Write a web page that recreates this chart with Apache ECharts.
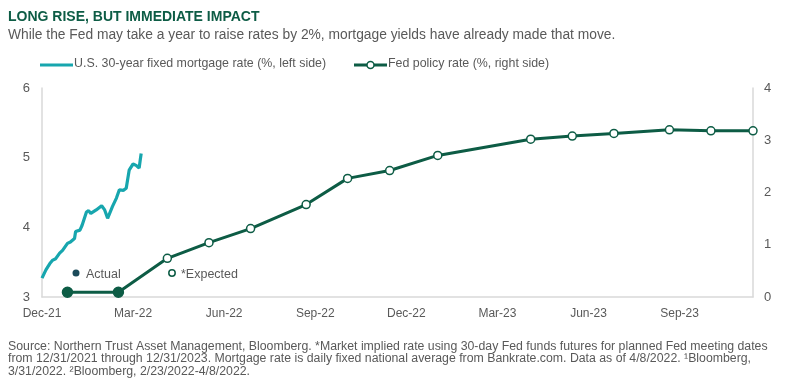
<!DOCTYPE html>
<html><head><meta charset="utf-8">
<script src="https://cdn.jsdelivr.net/npm/echarts@6/dist/echarts.min.js"></script>
<style>html,body{margin:0;padding:0;background:#fff}#c{width:800px;height:378px}</style>
</head><body><div id="c"></div>
<script>
// ---- data ----
const tickLabels = ['Dec-21','Mar-22','Jun-22','Sep-22','Dec-22','Mar-23','Jun-23','Sep-23'];
const mortgageDates = ['2021-12-31','2022-01-01','2022-01-04','2022-01-08','2022-01-11','2022-01-14','2022-01-18','2022-01-21','2022-01-23','2022-01-26','2022-01-29','2022-02-02','2022-02-03','2022-02-07','2022-02-09','2022-02-13','2022-02-15','2022-02-17','2022-02-22','2022-02-27','2022-03-02','2022-03-05','2022-03-07','2022-03-10','2022-03-14','2022-03-17','2022-03-21','2022-03-24','2022-03-27','2022-03-31','2022-04-03','2022-04-06','2022-04-07','2022-04-08'];
const mortgageRates = [3.27,3.29,3.39,3.48,3.53,3.55,3.63,3.67,3.65,3.77,3.79,3.84,3.94,3.96,4.03,4.22,4.24,4.20,4.25,4.31,4.25,4.13,4.13,4.30,4.42,4.54,4.53,4.56,4.82,4.91,4.89,4.85,4.96,5.06];
const fedDates = ['2022-01-26','2022-03-16','2022-05-04','2022-06-15','2022-07-27','2022-09-21','2022-11-02','2022-12-14','2023-02-01','2023-05-03','2023-06-14','2023-07-26','2023-09-20','2023-11-01','2023-12-13'];
const fedRates = [0.09,0.09,0.74,1.04,1.31,1.77,2.27,2.42,2.71,3.02,3.08,3.13,3.20,3.18,3.18];
const fedActualCount = 2;
const axisEndDate = '2023-12-13';
const seriesNames = ['U.S. 30-year fixed mortgage rate (%, left side)','Fed policy rate (%, right side)'];

// ---- helpers ----
function monthIdx(s){ // months elapsed since 2021-12-31
  const [y,m,d] = s.split('-').map(Number);
  const dim = new Date(y, m, 0).getDate();
  return (y-2022)*12 + (m-1) + d/dim;
}
const GREEN = '#0d5c45', TEAL = '#17a6ae', GRAY = '#595959', AX = '#d9d9d9';
const FONT = '"Liberation Sans", Arial, sans-serif';

const mortgageData = mortgageDates.map((d,i)=>[monthIdx(d), mortgageRates[i]]);
const fedData = fedDates.map((d,i)=>{
  const o = {value:[monthIdx(d), fedRates[i]]};
  if(i < fedActualCount){ o.symbolSize = 10; o.itemStyle = {color: GREEN, borderColor: GREEN}; }
  return o;
});

const chart = echarts.init(document.getElementById('c'), null, {renderer:'canvas'});
chart.setOption({
  animation:false,
  backgroundColor:'#fff',
  textStyle:{fontFamily:FONT},
  grid:{left:42,right:47,top:88,bottom:81,containLabel:false},
  xAxis:{
    type:'value', min:0, max:monthIdx(axisEndDate), interval:3,
    axisLine:{show:true,lineStyle:{color:AX,width:1.5}},
    axisTick:{show:false}, splitLine:{show:false},
    axisLabel:{color:GRAY,fontSize:12,margin:11,fontFamily:FONT,showMaxLabel:false,
      formatter:v=>{const k=v/3; return Math.abs(k-Math.round(k))<1e-6 ? (tickLabels[Math.round(k)]||'') : '';}}
  },
  yAxis:[
    {type:'value',min:3,max:6,interval:1,position:'left',
     axisLine:{show:true,lineStyle:{color:AX,width:1.5}},axisTick:{show:false},splitLine:{show:false},
     axisLabel:{color:GRAY,fontSize:13,margin:12,fontFamily:FONT}},
    {type:'value',min:0,max:4,interval:1,position:'right',
     axisLine:{show:true,lineStyle:{color:AX,width:1.5}},axisTick:{show:false},splitLine:{show:false},
     axisLabel:{color:GRAY,fontSize:13,margin:11,fontFamily:FONT}}
  ],
  series:[
    {name:seriesNames[0],type:'line',yAxisIndex:0,
     data:mortgageData,symbol:'none',lineStyle:{color:TEAL,width:3.2},itemStyle:{color:TEAL}},
    {name:seriesNames[1],type:'line',yAxisIndex:1,
     data:fedData,symbol:'circle',symbolSize:8,showSymbol:true,
     lineStyle:{color:GREEN,width:3},itemStyle:{color:'#fff',borderColor:GREEN,borderWidth:1.5}}
  ],
  graphic:[
    {type:'text',left:8,top:10,style:{text:'LONG RISE, BUT IMMEDIATE IMPACT',font:'bold 14px '+FONT,fill:GREEN}},
    {type:'text',left:8,top:28,style:{text:'While the Fed may take a year to raise rates by 2%, mortgage yields have already made that move.',font:'13.8px '+FONT,fill:GRAY}},
    // legend
    {type:'line',shape:{x1:40,y1:65,x2:73,y2:65},style:{stroke:TEAL,lineWidth:3}},
    {type:'text',left:74,top:58,style:{text:seriesNames[0],font:'12.4px '+FONT,fill:GRAY}},
    {type:'line',shape:{x1:354,y1:65,x2:387,y2:65},style:{stroke:GREEN,lineWidth:3}},
    {type:'circle',shape:{cx:370.5,cy:65,r:3.5},style:{fill:'#fff',stroke:GREEN,lineWidth:1.5}},
    {type:'text',left:388,top:58,style:{text:seriesNames[1],font:'12.4px '+FONT,fill:GRAY}},
    // annotations
    {type:'circle',shape:{cx:76,cy:273,r:3.5},style:{fill:'#1b4a5a'}},
    {type:'text',left:86,top:268,style:{text:'Actual',font:'12.5px '+FONT,fill:GRAY}},
    {type:'circle',shape:{cx:172,cy:273,r:3.2},style:{fill:'#fff',stroke:GREEN,lineWidth:1.5}},
    {type:'text',left:181,top:268,style:{text:'*Expected',font:'12.5px '+FONT,fill:GRAY}},
    {type:'text',left:8,top:340,style:{text:'Source: Northern Trust Asset Management, Bloomberg. *Market implied rate using 30-day Fed funds futures for planned Fed meeting dates\nfrom 12/31/2021 through 12/31/2023. Mortgage rate is daily fixed national average from Bankrate.com. Data as of 4/8/2022. \u00B9Bloomberg,\n3/31/2022. \u00B2Bloomberg, 2/23/2022-4/8/2022.',font:'12.3px '+FONT,fill:GRAY,lineHeight:12.5}}
  ]
});
</script></body></html>
